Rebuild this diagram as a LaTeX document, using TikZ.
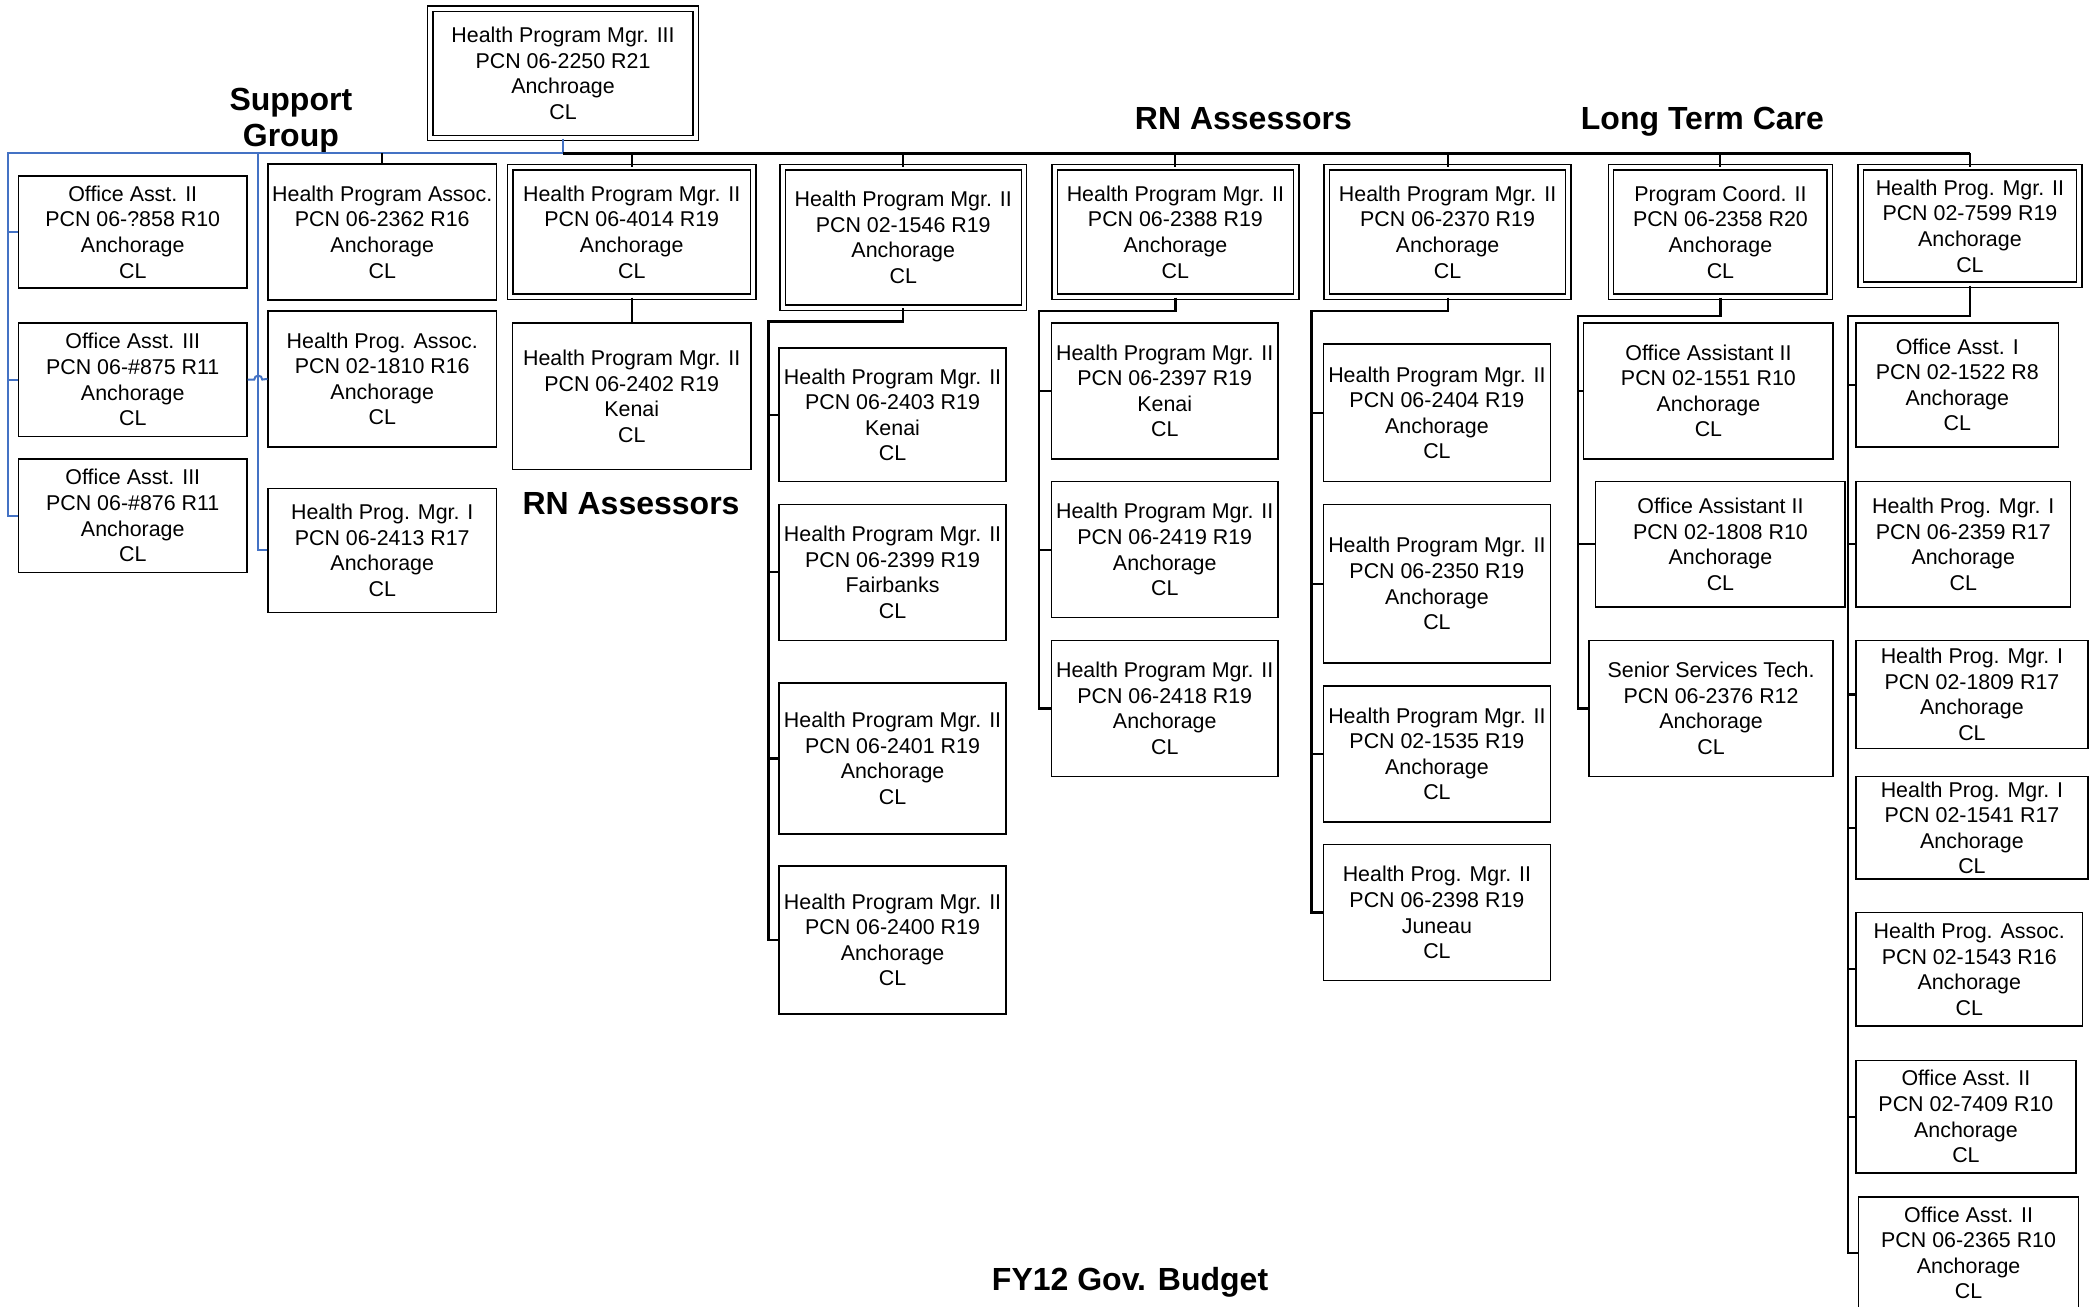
\documentclass[tikz,border=0pt]{standalone}
\usepackage{fontspec}
\setmainfont{Liberation Sans}
\definecolor{sgblue}{RGB}{68,114,196}
\newcommand\ob[7]{\node[#6, minimum width={(#4-#2)*0.667pt}, minimum height={(#5-#3)*0.667pt}] (#1) at ({(#2+#4)/2},{(#3+#5)/2}) {#7};}
\tikzset{
  box/.style={draw, line width=0.75pt, fill=white, inner sep=0pt, align=center, font=\fontsize{10.7}{12.8}\selectfont},
  dbox/.style={box, double, double distance=2pt, line width=0.7pt},
  bus/.style={line width=1.6pt},
  tick/.style={line width=1pt},
  sub/.style={line width=1.1pt},
  bl/.style={draw=sgblue, line width=1pt},
  head/.style={font=\fontsize{16}{18}\selectfont\bfseries, anchor=base, inner sep=0pt}
}
\begin{document}
\begin{tikzpicture}[x=0.667pt,y=-0.667pt]
\useasboundingbox (0,0) rectangle (1568,979);
% headings
\node[head] (sg1) at (218,83) {Support};
\node[head] (sg2) at (218,110) {Group};
\node[head] (rn1) at (932,97) {RN Assessors};
\node[head] (ltc) at (1276,97) {Long Term Care};
\node[head] (rn2) at (473,386) {RN Assessors};
\node[head] (fy) at (847,967) {FY12 Gov. Budget};
% top
\ob{T}{322.5}{6.5}{521.5}{103.5}{dbox}{Health Program Mgr. III\\PCN 06-2250 R21\\Anchroage\\CL}
% support group
\ob{OA1}{14}{132}{185}{216}{box}{Office Asst. II\\PCN 06-?858 R10\\Anchorage\\CL}
\ob{OA2}{14}{242}{185}{327}{box}{Office Asst. III\\PCN 06-\#875 R11\\Anchorage\\CL}
\ob{OA3}{14}{344}{185}{429}{box}{Office Asst. III\\PCN 06-\#876 R11\\Anchorage\\CL}
\ob{HPA1}{201}{123}{372}{225}{box}{Health Program Assoc.\\PCN 06-2362 R16\\Anchorage\\CL}
\ob{HPA2}{201}{233}{372}{335}{box}{Health Prog. Assoc.\\PCN 02-1810 R16\\Anchorage\\CL}
\ob{HPMI}{201}{366}{372}{459}{box}{Health Prog. Mgr. I\\PCN 06-2413 R17\\Anchorage\\CL}
% column 3
\ob{P4014}{382.5}{125.5}{564.5}{222.5}{dbox}{Health Program Mgr. II\\PCN 06-4014 R19\\Anchorage\\CL}
\ob{P2402}{384}{242}{563}{352}{box}{Health Program Mgr. II\\PCN 06-2402 R19\\Kenai\\CL}
% column 4
\ob{P1546}{586.5}{125.5}{767.5}{230.5}{dbox}{Health Program Mgr. II\\PCN 02-1546 R19\\Anchorage\\CL}
\ob{P2403}{584}{261}{754}{361}{box}{Health Program Mgr. II\\PCN 06-2403 R19\\Kenai\\CL}
\ob{P2399}{584}{378}{754}{480}{box}{Health Program Mgr. II\\PCN 06-2399 R19\\Fairbanks\\CL}
\ob{P2401}{584}{512}{754}{625}{box}{Health Program Mgr. II\\PCN 06-2401 R19\\Anchorage\\CL}
\ob{P2400}{584}{649}{754}{760}{box}{Health Program Mgr. II\\PCN 06-2400 R19\\Anchorage\\CL}
% column 5
\ob{P2388}{790.5}{125.5}{971.5}{222.5}{dbox}{Health Program Mgr. II\\PCN 06-2388 R19\\Anchorage\\CL}
\ob{P2397}{788}{242}{958}{344}{box}{Health Program Mgr. II\\PCN 06-2397 R19\\Kenai\\CL}
\ob{P2419}{788}{361}{958}{463}{box}{Health Program Mgr. II\\PCN 06-2419 R19\\Anchorage\\CL}
\ob{P2418}{788}{480}{958}{582}{box}{Health Program Mgr. II\\PCN 06-2418 R19\\Anchorage\\CL}
% column 6
\ob{P2370}{994.5}{125.5}{1175.5}{222.5}{dbox}{Health Program Mgr. II\\PCN 06-2370 R19\\Anchorage\\CL}
\ob{P2404}{992}{258}{1162}{361}{box}{Health Program Mgr. II\\PCN 06-2404 R19\\Anchorage\\CL}
\ob{P2350}{992}{378}{1162}{497}{box}{Health Program Mgr. II\\PCN 06-2350 R19\\Anchorage\\CL}
\ob{P1535}{992}{514}{1162}{616}{box}{Health Program Mgr. II\\PCN 02-1535 R19\\Anchorage\\CL}
\ob{P2398}{992}{633}{1162}{735}{box}{Health Prog. Mgr. II\\PCN 06-2398 R19\\Juneau\\CL}
% column 7
\ob{P2358}{1207.5}{125.5}{1371.5}{222.5}{dbox}{Program Coord. II\\PCN 06-2358 R20\\Anchorage\\CL}
\ob{P1551}{1187}{242}{1374}{344}{box}{Office Assistant II\\PCN 02-1551 R10\\Anchorage\\CL}
\ob{P1808}{1196}{361}{1383}{455}{box}{Office Assistant II\\PCN 02-1808 R10\\Anchorage\\CL}
\ob{P2376}{1191}{480}{1374}{582}{box}{Senior Services Tech.\\PCN 06-2376 R12\\Anchorage\\CL}
% column 8
\ob{P7599}{1394.5}{125.5}{1558.5}{213.5}{dbox}{Health Prog. Mgr. II\\PCN 02-7599 R19\\Anchorage\\CL}
\ob{P1522}{1391}{242}{1543}{335}{box}{Office Asst. I\\PCN 02-1522 R8\\Anchorage\\CL}
\ob{P2359}{1391}{361}{1552}{455}{box}{Health Prog. Mgr. I\\PCN 06-2359 R17\\Anchorage\\CL}
\ob{P1809}{1391}{480}{1565}{561}{box}{Health Prog. Mgr. I\\PCN 02-1809 R17\\Anchorage\\CL}
\ob{P1541}{1391}{582}{1565}{659}{box}{Health Prog. Mgr. I\\PCN 02-1541 R17\\Anchorage\\CL}
\ob{P1543}{1391}{684}{1561}{769}{box}{Health Prog. Assoc.\\PCN 02-1543 R16\\Anchorage\\CL}
\ob{P7409}{1391}{795}{1556}{879}{box}{Office Asst. II\\PCN 02-7409 R10\\Anchorage\\CL}
\ob{P2365}{1393}{897}{1558}{981}{box}{Office Asst. II\\PCN 06-2365 R10\\Anchorage\\CL}
% connectors: blue support group
\coordinate (bL) at (6,115);
\coordinate (bS) at (193,115);
\draw[bl] (T.south) -- (T.south |- bL) -- (bL) -- (bL |- OA3.west) -- (OA3.west);
\draw[bl] (bL |- OA1.west) -- (OA1.west);
\draw[bl] (bL |- OA2.west) -- (OA2.west);
\draw[bl] (bS) -- (bS |- HPMI.west) -- (HPMI.west);
\draw[bl] (OA2.east) -- ++(5,0) arc[start angle=180,end angle=0,radius=2pt] -- (HPA2.west);
% main bus
\draw[bus] (T.south |- bL) -- (P7599.north |- bL);
\foreach \n in {HPA1,P4014,P1546,P2388,P2370,P2358,P7599}
  \draw[tick] (\n.north) -- (\n.north |- bL);
% column 3
\draw[sub] (P4014.south) -- (P2402.north);
% column 4
\coordinate (c4) at (576,241);
\draw[sub] (P1546.south) |- (c4) -- (c4 |- P2400.west) -- (P2400.west);
\foreach \n in {P2403,P2399,P2401} \draw[sub] (c4 |- \n.west) -- (\n.west);
% column 5
\coordinate (c5) at (779,233);
\draw[sub] (P2388.south) |- (c5) -- (c5 |- P2418.west) -- (P2418.west);
\foreach \n in {P2397,P2419} \draw[sub] (c5 |- \n.west) -- (\n.west);
% column 6
\coordinate (c6) at (983,233);
\draw[sub] (P2370.south) |- (c6) -- (c6 |- P2398.west) -- (P2398.west);
\foreach \n in {P2404,P2350,P1535} \draw[sub] (c6 |- \n.west) -- (\n.west);
% column 7
\coordinate (c7) at (1183,237);
\draw[sub] (P2358.south) |- (c7) -- (c7 |- P2376.west) -- (P2376.west);
\foreach \n in {P1551,P1808} \draw[sub] (c7 |- \n.west) -- (\n.west);
% column 8
\coordinate (c8) at (1385,237);
\draw[sub] (P7599.south) |- (c8) -- (c8 |- P2365.west) -- (P2365.west);
\foreach \n in {P1522,P2359,P1809,P1541,P1543,P7409} \draw[sub] (c8 |- \n.west) -- (\n.west);
\end{tikzpicture}
\end{document}
